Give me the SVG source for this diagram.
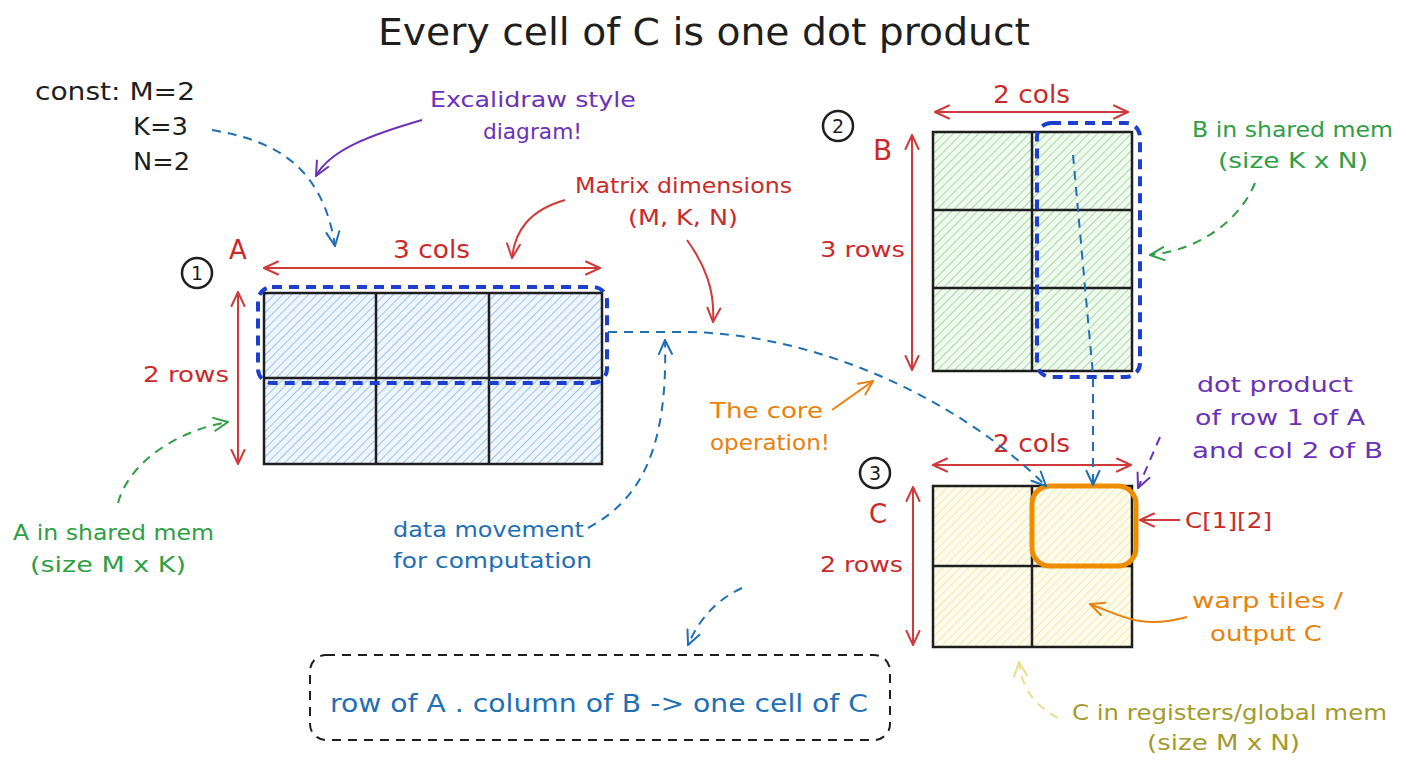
<svg xmlns="http://www.w3.org/2000/svg" width="1408" height="768" viewBox="0 0 1408 768">
<style>
text{font-family:"DejaVu Sans","Liberation Sans",sans-serif;}
.red{fill:#c92a2a;}.blue{fill:#1f6fb5;}.green{fill:#2f9e44;}.purple{fill:#6a32b8;}.orange{fill:#e8820c;}.olive{fill:#a39a2c;}.blk{fill:#1e1e1e;}
.grid{fill:none;stroke:#1e1e1e;stroke-width:2.5;}
.dim{fill:none;stroke:#d03a3a;stroke-width:2;marker-start:url(#ah-red);marker-end:url(#ah-red);}
.dash{fill:none;stroke-width:2;stroke-dasharray:9 7;}
.solid{fill:none;stroke-width:2;}
.hl{fill:none;stroke:#1c3fd0;stroke-width:4;stroke-dasharray:10 7;}
.num{fill:#fff;stroke:#1e1e1e;stroke-width:2.5;}
</style>
<defs>
<pattern id="hatchA" patternUnits="userSpaceOnUse" width="6" height="6" patternTransform="rotate(45)"><rect width="6" height="6" fill="#eef5fd"/><line x1="0" y1="0" x2="0" y2="6" stroke="#86b9ea" stroke-width="1.6"/></pattern>
<pattern id="hatchB" patternUnits="userSpaceOnUse" width="6" height="6" patternTransform="rotate(45)"><rect width="6" height="6" fill="#f0f9ee"/><line x1="0" y1="0" x2="0" y2="6" stroke="#94d394" stroke-width="1.6"/></pattern>
<pattern id="hatchC" patternUnits="userSpaceOnUse" width="6" height="6" patternTransform="rotate(45)"><rect width="6" height="6" fill="#fefcec"/><line x1="0" y1="0" x2="0" y2="6" stroke="#f1e39a" stroke-width="1.6"/></pattern>
<marker id="ah-red" viewBox="0 0 16 16" refX="15" refY="8" markerWidth="16" markerHeight="16" markerUnits="userSpaceOnUse" orient="auto-start-reverse"><path d="M1,1.5 L15,8 L1,14.5" fill="none" stroke="#d03a3a" stroke-width="2" stroke-linecap="round"/></marker>
<marker id="ah-blue" viewBox="0 0 16 16" refX="15" refY="8" markerWidth="16" markerHeight="16" markerUnits="userSpaceOnUse" orient="auto-start-reverse"><path d="M1,1.5 L15,8 L1,14.5" fill="none" stroke="#1f6fb5" stroke-width="2" stroke-linecap="round"/></marker>
<marker id="ah-green" viewBox="0 0 16 16" refX="15" refY="8" markerWidth="16" markerHeight="16" markerUnits="userSpaceOnUse" orient="auto-start-reverse"><path d="M1,1.5 L15,8 L1,14.5" fill="none" stroke="#2f9e44" stroke-width="2" stroke-linecap="round"/></marker>
<marker id="ah-purple" viewBox="0 0 16 16" refX="15" refY="8" markerWidth="16" markerHeight="16" markerUnits="userSpaceOnUse" orient="auto-start-reverse"><path d="M1,1.5 L15,8 L1,14.5" fill="none" stroke="#6a32b8" stroke-width="2" stroke-linecap="round"/></marker>
<marker id="ah-orange" viewBox="0 0 16 16" refX="15" refY="8" markerWidth="16" markerHeight="16" markerUnits="userSpaceOnUse" orient="auto-start-reverse"><path d="M1,1.5 L15,8 L1,14.5" fill="none" stroke="#e8820c" stroke-width="2" stroke-linecap="round"/></marker>
<marker id="ah-yellow" viewBox="0 0 16 16" refX="15" refY="8" markerWidth="16" markerHeight="16" markerUnits="userSpaceOnUse" orient="auto-start-reverse"><path d="M1,1.5 L15,8 L1,14.5" fill="none" stroke="#e8de8c" stroke-width="2" stroke-linecap="round"/></marker>
</defs>
<rect width="1408" height="768" fill="#ffffff"/>

<text id="title" class="blk" x="704" y="45" font-size="37" text-anchor="middle" textLength="652" lengthAdjust="spacingAndGlyphs">Every cell of C is one dot product</text>

<g id="consts" class="blk" font-size="24">
<text x="35" y="100" font-size="24" textLength="160" lengthAdjust="spacingAndGlyphs">const: M=2</text>
<text x="133" y="135" font-size="24" textLength="55" lengthAdjust="spacingAndGlyphs">K=3</text>
<text x="133" y="170" font-size="24" textLength="57" lengthAdjust="spacingAndGlyphs">N=2</text>
</g>

<g id="matrixA">
<rect x="264" y="293" width="338" height="171" fill="url(#hatchA)"/>
<rect class="grid" x="264" y="293" width="338" height="171"/>
<line class="grid" x1="376" y1="293" x2="376" y2="464"/>
<line class="grid" x1="489" y1="293" x2="489" y2="464"/>
<line class="grid" x1="264" y1="378" x2="602" y2="378"/>
<rect class="hl" x="258" y="287" width="349" height="96" rx="14"/>
<path class="dim" d="M264,268 L600,268"/>
<path class="dim" d="M238,292 L238,464"/>
<text class="red" x="393" y="258" font-size="24" textLength="77" lengthAdjust="spacingAndGlyphs">3 cols</text>
<text class="red" x="229" y="259" font-size="26">A</text>
<text class="red" x="143" y="382" font-size="22" textLength="86" lengthAdjust="spacingAndGlyphs">2 rows</text>
<circle class="num" cx="197" cy="273" r="15"/>
<text class="blk" x="197" y="280" font-size="19" text-anchor="middle">1</text>
</g>

<g id="matrixB">
<rect x="933" y="132" width="199" height="239" fill="url(#hatchB)"/>
<rect class="grid" x="933" y="132" width="199" height="239"/>
<line class="grid" x1="1032" y1="132" x2="1032" y2="371"/>
<line class="grid" x1="933" y1="210" x2="1132" y2="210"/>
<line class="grid" x1="933" y1="288" x2="1132" y2="288"/>
<rect class="hl" x="1037" y="123" width="103" height="254" rx="14"/>
<path class="dim" d="M935,112 L1128,112"/>
<path class="dim" d="M912,135 L912,370"/>
<text class="red" x="993" y="103" font-size="24" textLength="77" lengthAdjust="spacingAndGlyphs">2 cols</text>
<text class="red" x="873" y="160" font-size="28">B</text>
<text class="red" x="820" y="257" font-size="22" textLength="85" lengthAdjust="spacingAndGlyphs">3 rows</text>
<circle class="num" cx="838" cy="126" r="15"/>
<text class="blk" x="838" y="133" font-size="19" text-anchor="middle">2</text>
</g>

<g id="matrixC">
<rect x="933" y="486" width="199" height="161" fill="url(#hatchC)"/>
<rect class="grid" x="933" y="486" width="199" height="161"/>
<line class="grid" x1="1032" y1="486" x2="1032" y2="647"/>
<line class="grid" x1="933" y1="566" x2="1132" y2="566"/>
<rect x="1032" y="486" width="104" height="80" rx="18" fill="none" stroke="#f08c00" stroke-width="5"/>
<path class="dim" d="M933,465 L1131,465"/>
<path class="dim" d="M913,487 L913,645"/>
<text class="red" x="993" y="452" font-size="24" textLength="77" lengthAdjust="spacingAndGlyphs">2 cols</text>
<text class="red" x="869" y="523" font-size="26">C</text>
<text class="red" x="820" y="572" font-size="22" textLength="83" lengthAdjust="spacingAndGlyphs">2 rows</text>
<circle class="num" cx="875" cy="473" r="15"/>
<text class="blk" x="875" y="480" font-size="19" text-anchor="middle">3</text>
<text class="red" x="1185" y="528" font-size="22" textLength="87" lengthAdjust="spacingAndGlyphs">C[1][2]</text>
</g>

<g id="summary">
<rect x="310" y="655" width="580" height="85" rx="16" fill="none" stroke="#1e1e1e" stroke-width="2" stroke-dasharray="9 7"/>
<text class="blue" x="330" y="712" font-size="24" textLength="538" lengthAdjust="spacingAndGlyphs">row of A . column of B -&gt; one cell of C</text>
</g>

<g id="notes" font-size="22">
<text class="purple" x="430" y="107" textLength="206" lengthAdjust="spacingAndGlyphs">Excalidraw style</text>
<text class="purple" x="483" y="139" textLength="99" lengthAdjust="spacingAndGlyphs">diagram!</text>
<text class="red" x="575" y="193" textLength="217" lengthAdjust="spacingAndGlyphs">Matrix dimensions</text>
<text class="red" x="628" y="225" textLength="110" lengthAdjust="spacingAndGlyphs">(M, K, N)</text>
<text class="green" x="13" y="540" textLength="201" lengthAdjust="spacingAndGlyphs">A in shared mem</text>
<text class="green" x="30" y="572" textLength="156" lengthAdjust="spacingAndGlyphs">(size M x K)</text>
<text class="blue" x="393" y="537" textLength="191" lengthAdjust="spacingAndGlyphs">data movement</text>
<text class="blue" x="393" y="568" textLength="199" lengthAdjust="spacingAndGlyphs">for computation</text>
<text class="orange" x="710" y="418" textLength="113" lengthAdjust="spacingAndGlyphs">The core</text>
<text class="orange" x="710" y="450" textLength="120" lengthAdjust="spacingAndGlyphs">operation!</text>
<text class="green" x="1192" y="137" textLength="201" lengthAdjust="spacingAndGlyphs">B in shared mem</text>
<text class="green" x="1218" y="168" textLength="150" lengthAdjust="spacingAndGlyphs">(size K x N)</text>
<text class="purple" x="1197" y="392" textLength="156" lengthAdjust="spacingAndGlyphs">dot product</text>
<text class="purple" x="1195" y="425" textLength="170" lengthAdjust="spacingAndGlyphs">of row 1 of A</text>
<text class="purple" x="1192" y="458" textLength="191" lengthAdjust="spacingAndGlyphs">and col 2 of B</text>
<text class="orange" x="1192" y="608" textLength="151" lengthAdjust="spacingAndGlyphs">warp tiles /</text>
<text class="orange" x="1210" y="641" textLength="112" lengthAdjust="spacingAndGlyphs">output C</text>
<text class="olive" x="1072" y="720" textLength="315" lengthAdjust="spacingAndGlyphs">C in registers/global mem</text>
<text class="olive" x="1147" y="750" textLength="153" lengthAdjust="spacingAndGlyphs">(size M x N)</text>
</g>

<g id="connectors">
<path class="dash" stroke="#1f6fb5" marker-end="url(#ah-blue)" d="M212,130 C270,140 322,162 335,246"/>
<path class="dash" stroke="#1f6fb5" marker-end="url(#ah-blue)" d="M608,332 L690,332 C820,335 960,400 1046,486"/>
<path class="dash" stroke="#1f6fb5" marker-end="url(#ah-blue)" d="M588,528 C640,500 668,450 665,340"/>
<path class="dash" stroke="#1f6fb5" marker-end="url(#ah-blue)" d="M1073,155 L1093,375 L1093,485"/>
<path class="dash" stroke="#1f6fb5" marker-end="url(#ah-blue)" d="M742,588 Q705,605 688,645"/>
<path class="dash" stroke="#2f9e44" marker-end="url(#ah-green)" d="M118,503 C130,460 180,430 228,422"/>
<path class="dash" stroke="#2f9e44" marker-end="url(#ah-green)" d="M1255,183 C1240,220 1200,250 1150,255"/>
<path class="dash" stroke="#6a32b8" marker-end="url(#ah-purple)" d="M1160,437 L1138,488"/>
<path class="dash" stroke="#e8de8c" marker-end="url(#ah-yellow)" d="M1058,718 C1035,705 1022,690 1019,662"/>
<path class="solid" stroke="#6a32b8" marker-end="url(#ah-purple)" d="M422,120 C370,135 330,150 316,176"/>
<path class="solid" stroke="#d03a3a" marker-end="url(#ah-red)" d="M565,200 C530,210 515,230 512,258"/>
<path class="solid" stroke="#d03a3a" marker-end="url(#ah-red)" d="M687,240 C705,265 715,290 713,322"/>
<path class="solid" stroke="#d03a3a" marker-end="url(#ah-red)" d="M1180,520 L1140,520"/>
<path class="solid" stroke="#e8820c" marker-end="url(#ah-orange)" d="M832,410 L873,381"/>
<path class="solid" stroke="#e8820c" marker-end="url(#ah-orange)" d="M1187,617 C1140,630 1120,615 1090,604"/>
</g>
</svg>
